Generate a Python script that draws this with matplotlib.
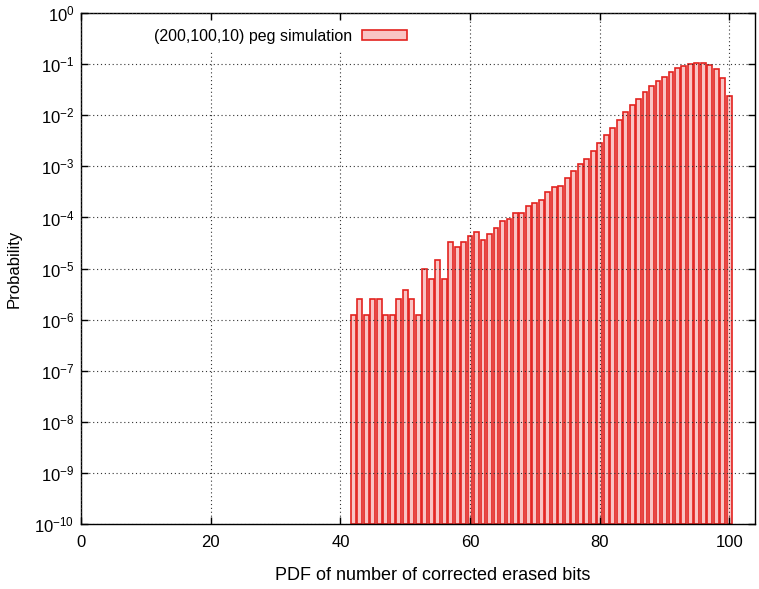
import numpy as np
from matplotlib import pyplot as plt
from matplotlib.patches import Patch

plt.rcParams['font.family'] = ['Liberation Sans', 'DejaVu Sans']
plt.rcParams['mathtext.default'] = 'regular'
plt.rcParams['font.size'] = 12

# number of corrected erased bits and their simulated probability
bits = np.arange(42, 101)
prob = [
    1.25e-6, 2.5e-6, 1.25e-6, 2.5e-6, 2.5e-6, 1.25e-6, 1.25e-6, 2.5e-6,
    3.75e-6, 2.5e-6, 1.25e-6, 1.0e-5, 6.25e-6, 1.5e-5, 6.25e-6, 3.25e-5,
    2.6e-5, 3.35e-5, 4.3e-5, 5.1e-5, 3.7e-5, 4.85e-5, 6.3e-5, 8.7e-5,
    9.5e-5, 1.2e-4, 1.24e-4, 1.67e-4, 1.91e-4, 2.16e-4, 3.15e-4, 3.88e-4,
    4.19e-4, 5.82e-4, 7.98e-4, 1.09e-3, 1.42e-3, 1.97e-3, 2.83e-3, 4.06e-3,
    5.74e-3, 8.12e-3, 1.13e-2, 1.57e-2, 2.12e-2, 2.83e-2, 3.71e-2, 4.73e-2,
    5.66e-2, 6.97e-2, 8.24e-2, 9.14e-2, 1.01e-1, 1.05e-1, 1.03e-1, 9.5e-2,
    7.9e-2, 5.3e-2, 2.33e-2,
]
label = '(200,100,10) peg simulation'

ymin = 1e-10
fill = '#f9c4c4'
edge = '#e3221f'

fig = plt.figure(figsize=(7.59, 5.89), dpi=100)
ax = fig.add_axes([0.107, 0.110, 0.888, 0.868])

ax.bar(bits, np.array(prob) - ymin, bottom=ymin, width=0.75,
       color=fill, edgecolor=edge, linewidth=1.2)

ax.set_yscale('log')
ax.set_ylim(ymin, 1)
ax.set_xlim(0, 104)
ax.set_xticks(range(0, 101, 20))
ax.set_yticks([10.0 ** k for k in range(-10, 1)])
ax.minorticks_off()

ax.grid(True, color='#333333', linestyle=(0, (1, 2.5)), linewidth=0.8)
ax.set_axisbelow(False)
ax.tick_params(direction='in', length=5, top=True, right=True, width=1)
ax.tick_params(axis='x', pad=8)
ax.tick_params(axis='y', pad=5)
for s in ax.spines.values():
    s.set_linewidth(1.0)

ax.set_xlabel('PDF of number of corrected erased bits', fontsize=13)
ax.xaxis.set_label_coords(0.522, -0.084)
ax.set_ylabel('Probability', labelpad=9)

handle = Patch(facecolor=fill, edgecolor=edge, linewidth=1.2)
leg = ax.legend([handle], [label], loc='upper left', bbox_to_anchor=(0.085, 1.0),
                markerfirst=False, frameon=True, handlelength=2.8,
                handleheight=0.6, handletextpad=0.6, borderpad=0.5,
                fontsize=11.5)
leg.get_frame().set_facecolor('white')
leg.get_frame().set_edgecolor('none')
leg.get_frame().set_alpha(1)

fig.savefig('out.png', dpi=100)
